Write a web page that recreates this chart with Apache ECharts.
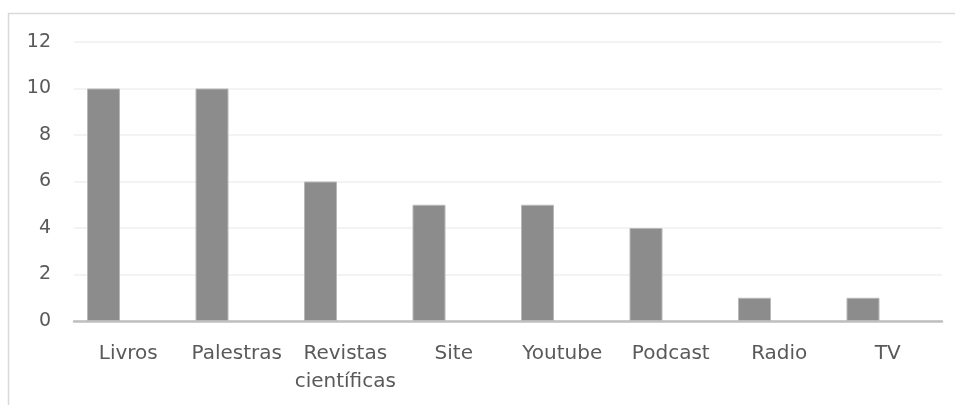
<!DOCTYPE html>
<html>
<head>
<meta charset="utf-8">
<script src="https://cdn.jsdelivr.net/npm/echarts@6/dist/echarts.min.js"></script>
<style>
  html, body { margin: 0; padding: 0; background: #fff; }
  #chart { width: 955px; height: 405px; }
</style>
</head>
<body>
<div id="chart"></div>
<script>
// Categories and counts per source
const categories = ['Livros', 'Palestras', 'Revistas\ncientíficas', 'Site', 'Youtube', 'Podcast', 'Radio', 'TV'];
const counts = [10, 10, 6, 5, 5, 4, 1, 1];
const yTicks = { min: 0, max: 12, interval: 2 };

const chart = echarts.init(document.getElementById('chart'), null, { renderer: 'canvas' });
const textColor = '#595959';
const font = 'DejaVu Sans';

chart.setOption({
  animation: false,
  graphic: [{
    type: 'rect',
    shape: { x: 8.5, y: 13.5, width: 960, height: 420 },
    style: { fill: 'none', stroke: '#d9d9d9', lineWidth: 1.5 },
    silent: true
  }],
  grid: { left: 74, right: 13, top: 42, bottom: 84 },
  xAxis: {
    type: 'category',
    data: categories,
    axisLine: { lineStyle: { color: '#bfbfbf', width: 2.5 } },
    axisTick: { show: false },
    axisLabel: {
      color: textColor, fontFamily: font, fontSize: 20,
      lineHeight: 28, margin: 19, interval: 0
    }
  },
  yAxis: {
    type: 'value',
    min: yTicks.min, max: yTicks.max, interval: yTicks.interval,
    axisLine: { show: false },
    axisTick: { show: false },
    splitLine: { lineStyle: { color: '#efefef', width: 1.5 } },
    axisLabel: { color: textColor, fontFamily: font, fontSize: 19, margin: 23 }
  },
  series: [
    {
      type: 'bar',
      data: counts,
      barWidth: 33,
      barGap: '50%',
      itemStyle: { color: '#8c8c8c', borderColor: '#b8b8b8', borderWidth: 1 }
    },
    {
      type: 'bar',
      data: [],
      barWidth: 33
    }
  ]
});
</script>
</body>
</html>
